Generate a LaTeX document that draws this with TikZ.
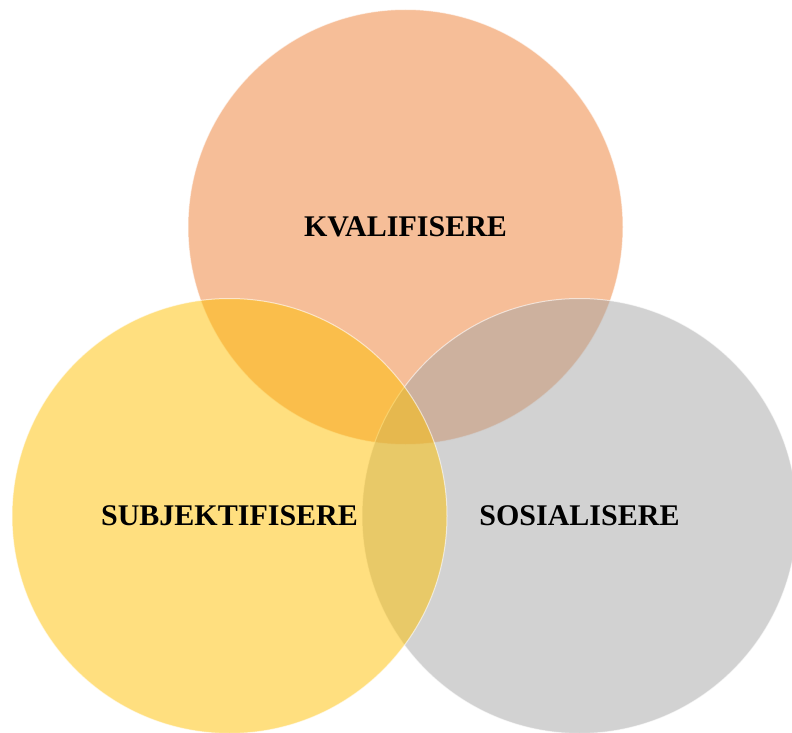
\documentclass[tikz,border=0pt]{standalone}
\usepackage{fontspec}
\setmainfont{Liberation Serif}
\usetikzlibrary{positioning}

\definecolor{kvalorange}{HTML}{ED7D31}
\definecolor{sosgray}{HTML}{A5A5A5}
\definecolor{subjyellow}{HTML}{FFC000}

\tikzset{venn/.style={circle, minimum size=435pt, inner sep=0pt,
    draw=white, line width=1pt, draw opacity=0.6,
    fill opacity=0.5, text opacity=1,
    font=\fontsize{30}{36}\selectfont\bfseries}}

\begin{document}
\begin{tikzpicture}[x=1pt,y=-1pt]
\useasboundingbox (0,0) rectangle (792,733);
\clip (0,0) rectangle (792,733);

\node[venn, fill=kvalorange] (kval) at (405.5,227) {KVALIFISERE};
\node[venn, fill=sosgray]    (sos)  at (579.5,516) {SOSIALISERE};
\node[venn, fill=subjyellow] (subj) at (229.5,516) {SUBJEKTIFISERE};
\end{tikzpicture}
\end{document}
